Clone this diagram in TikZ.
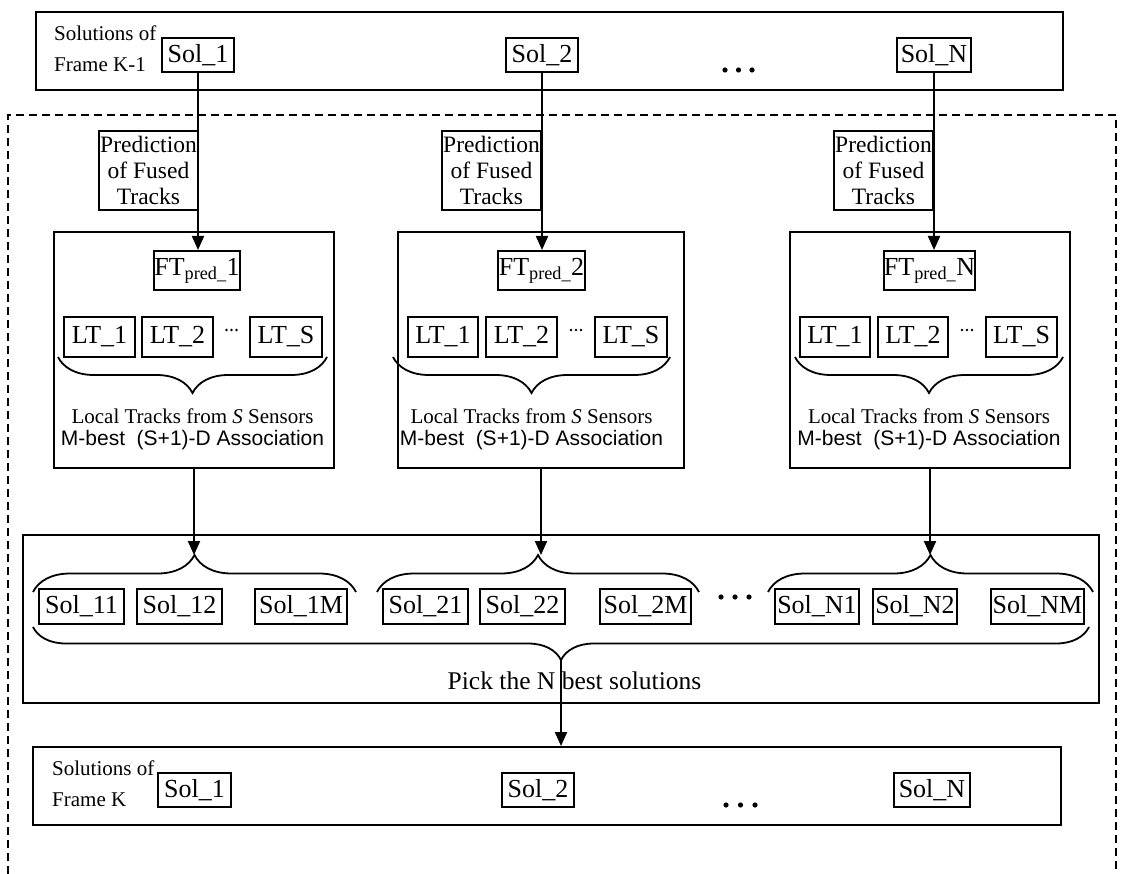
\documentclass[tikz,border=0pt]{standalone}
\usepackage{fontspec}
\setmainfont{Liberation Serif}
\newfontfamily\arialfont{Liberation Sans}
\usetikzlibrary{arrows.meta,decorations.pathreplacing}
\begin{document}
\begin{tikzpicture}[x=1pt,y=-1pt,
  frame/.style={draw, line width=2pt, inner sep=0pt},
  box/.style={draw, line width=2pt, inner sep=0pt, font=\fontsize{26}{30}\selectfont},
  solbox/.style={box, minimum height=35pt},
  ltbox/.style={box, minimum height=40pt},
  predbox/.style={draw, line width=2pt, inner sep=0pt, minimum width=99pt, minimum height=79pt,
    align=center, font=\fontsize{23.5}{26}\selectfont},
  small/.style={inner sep=0pt, font=\fontsize{21}{25}\selectfont},
  sans/.style={inner sep=0pt, font=\arialfont\fontsize{21}{25}\selectfont},
  arr/.style={line width=2pt, -{Triangle[length=14pt,width=12pt]}},
  brc/.style={decorate, line width=1.8pt, decoration={brace, amplitude=#1}},
  dashframe/.style={line width=2pt, dash pattern=on 8pt off 5pt},
  bigdot/.style={fill=black},
]
\useasboundingbox (0,0) rectangle (1123,874);

% ---------- top box: solutions of frame K-1
\node[frame, minimum width=1027pt, minimum height=78pt] (topbox) at (549.5,51) {};
\node[small, anchor=west] (toplab1) at (54,33) {Solutions of};
\node[small, anchor=west] (toplab2) at (54,65) {Frame K-1};
\node[box, minimum width=72pt, minimum height=34pt] (s1) at (198,55) {Sol\_1};
\node[box, minimum width=72pt, minimum height=34pt] (s2) at (542,55) {Sol\_2};
\node[box, minimum width=74pt, minimum height=34pt] (sN) at (934,55) {Sol\_N};
\fill[bigdot] (725,70) circle (2.6pt) (738.5,70) circle (2.6pt) (752,70) circle (2.6pt);

% ---------- dashed outer frame
\draw[dashframe] (8,874) -- (8,115) -- (1116,115) -- (1116,874);

% ---------- prediction boxes
\node[predbox] (p1) at (148.5,170.5) {Prediction\\of Fused\\Tracks};
\node[predbox] (p2) at (491.5,170.5) {Prediction\\of Fused\\Tracks};
\node[predbox] (p3) at (883.5,170.5) {Prediction\\of Fused\\Tracks};

% ---------- group 1
\node[frame, minimum width=280pt, minimum height=236pt] (g1) at (194,350) {};
\node[box, minimum width=86pt, minimum height=39pt] (ft1) at (197,270.5) {FT\textsubscript{pred\_}1};
\node[ltbox, minimum width=71pt] (g1a) at (99.5,337) {LT\_1};
\node[ltbox, minimum width=71pt] (g1b) at (177.5,337) {LT\_2};
\node[ltbox, minimum width=72pt] (g1s) at (286,337) {LT\_S};
\fill (226.5,330) circle (1.3pt) (231.5,330) circle (1.3pt) (236.5,330) circle (1.3pt);
\draw[brc=36pt, decoration={mirror}] (58,357) -- (327,357);
\node[small] (g1t1) at (192.5,416) {Local Tracks from \textit{S} Sensors};
\node[sans] (g1t2) at (192.5,440) {M-best\ \ (S+1)-D Association};

% ---------- group 2
\node[frame, minimum width=286pt, minimum height=236pt] (g2) at (541,350) {};
\node[box, minimum width=87pt, minimum height=39pt] (ft2) at (541.5,270.5) {FT\textsubscript{pred\_}2};
\node[ltbox, minimum width=70pt] (g2a) at (443,337) {LT\_1};
\node[ltbox, minimum width=71pt] (g2b) at (521.5,337) {LT\_2};
\node[ltbox, minimum width=72pt] (g2s) at (631,337) {LT\_S};
\fill (571,330) circle (1.3pt) (576,330) circle (1.3pt) (581,330) circle (1.3pt);
\draw[brc=36pt, decoration={mirror}] (393,357) -- (670,357);
\node[small] (g2t1) at (531.5,416) {Local Tracks from \textit{S} Sensors};
\node[sans] (g2t2) at (531.5,440) {M-best\ \ (S+1)-D Association};

% ---------- group 3
\node[frame, minimum width=280pt, minimum height=236pt] (g3) at (930,350) {};
\node[box, minimum width=87pt, minimum height=39pt] (ft3) at (929.5,270.5) {FT\textsubscript{pred\_}N};
\node[ltbox, minimum width=70pt] (g3a) at (835,337) {LT\_1};
\node[ltbox, minimum width=70pt] (g3b) at (913,337) {LT\_2};
\node[ltbox, minimum width=71pt] (g3s) at (1021.5,337) {LT\_S};
\fill (962,330) circle (1.3pt) (967,330) circle (1.3pt) (972,330) circle (1.3pt);
\draw[brc=36pt, decoration={mirror}] (795,357) -- (1063,357);
\node[small] (g3t1) at (929,416) {Local Tracks from \textit{S} Sensors};
\node[sans] (g3t2) at (929,440) {M-best\ \ (S+1)-D Association};

% ---------- connectors top -> groups
\draw[arr] (s1.south) -- (s1.south |- ft1.north);
\draw[arr] (s2.south) -- (s2.south |- ft2.north);
\draw[arr] (sN.south) -- (sN.south |- ft3.north);

% ---------- big box with candidate solutions
\node[frame, minimum width=1076pt, minimum height=168pt] (big) at (561,619) {};
\coordinate (t1) at (194,555);
\coordinate (t2) at (538,555);
\coordinate (t3) at (930.5,555);
\draw[brc=37pt] (33,592) -- (356,592);
\draw[brc=37pt] (377,592) -- (699,592);
\draw[brc=37pt] (768,592) -- (1093,592);
\draw[arr] (g1.south) -- (g1.south |- t1);
\draw[arr] (g2.south) -- (g2.south |- t2);
\draw[arr] (g3.south) -- (g3.south |- t3);

\node[solbox, minimum width=85pt] (c11) at (81.5,606.5) {Sol\_11};
\node[solbox, minimum width=85pt] (c12) at (179.5,606.5) {Sol\_12};
\node[solbox, minimum width=92pt] (c1M) at (301,606.5) {Sol\_1M};
\node[solbox, minimum width=85pt] (c21) at (425.5,606.5) {Sol\_21};
\node[solbox, minimum width=85pt] (c22) at (522.5,606.5) {Sol\_22};
\node[solbox, minimum width=91pt] (c2M) at (645.5,606.5) {Sol\_2M};
\node[solbox, minimum width=84pt] (cN1) at (817,606.5) {Sol\_N1};
\node[solbox, minimum width=84pt] (cN2) at (915,606.5) {Sol\_N2};
\node[solbox, minimum width=93pt] (cNM) at (1037.5,606.5) {Sol\_NM};
\fill[bigdot] (721,597) circle (2.6pt) (735,597) circle (2.6pt) (749,597) circle (2.6pt);

\draw[brc=33pt, decoration={mirror}] (33,627) -- (1089,627);
\coordinate (tb) at (561,660);
\node[inner sep=0pt, font=\fontsize{25.5}{30}\selectfont] (pick) at (574.5,681) {Pick the N best solutions};

% ---------- bottom box: solutions of frame K
\node[frame, minimum width=1028pt, minimum height=78pt] (bot) at (547,786) {};
\node[small, anchor=west] (botlab1) at (52,768) {Solutions of};
\node[small, anchor=west] (botlab2) at (52,800) {Frame K};
\node[box, minimum width=73pt, minimum height=34pt] (k1) at (194.5,790) {Sol\_1};
\node[box, minimum width=72pt, minimum height=34pt] (k2) at (538,790) {Sol\_2};
\node[box, minimum width=76pt, minimum height=34pt] (kN) at (932,790) {Sol\_N};
\fill[bigdot] (726,805) circle (2.6pt) (740.5,805) circle (2.6pt) (755,805) circle (2.6pt);

\draw[arr] (tb) -- (tb |- bot.north);
\end{tikzpicture}
\end{document}
